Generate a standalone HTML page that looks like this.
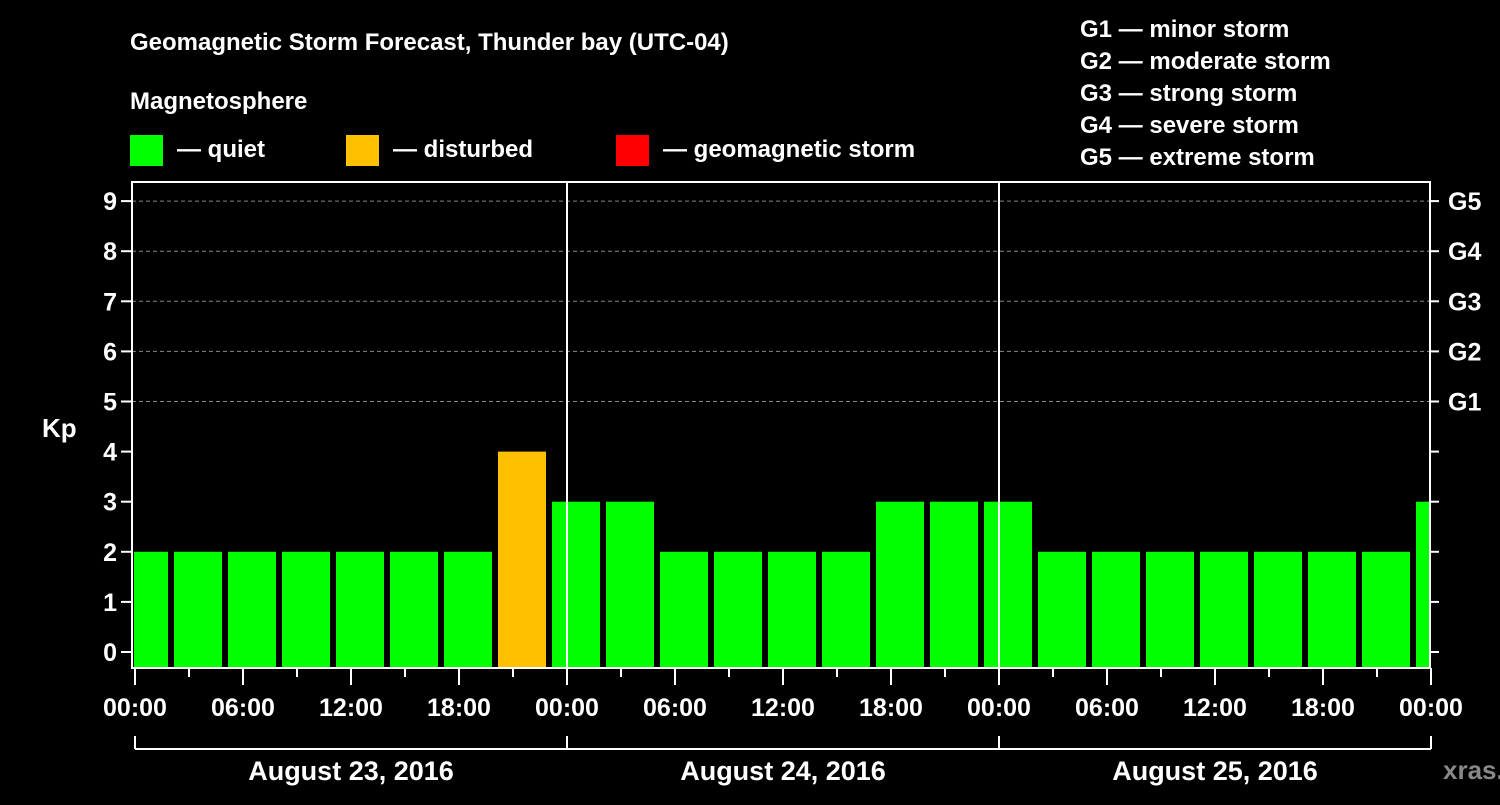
<!DOCTYPE html>
<html><head><meta charset="utf-8"><style>
body{margin:0;background:#000;width:1500px;height:800px;overflow:hidden}
svg text{font-family:"Liberation Sans",Arial,sans-serif;font-weight:bold;fill:#fff}
</style></head><body>
<svg id="c" width="1500" height="800">
<text x="130" y="50" font-size="24">Geomagnetic Storm Forecast, Thunder bay (UTC-04)</text>
<text x="130" y="109" font-size="24">Magnetosphere</text>
<g><rect x="130" y="135" width="33" height="31" fill="#00ff00"/><text x="177" y="157" font-size="24">— quiet</text></g>
<g><rect x="346" y="135" width="33" height="31" fill="#ffc000"/><text x="393" y="157" font-size="24">— disturbed</text></g>
<g><rect x="616" y="135" width="33" height="31" fill="#ff0000"/><text x="663" y="157" font-size="24">— geomagnetic storm</text></g>
<g font-size="24">
<text x="1080" y="37">G1 — minor storm</text><text x="1080" y="69">G2 — moderate storm</text><text x="1080" y="101">G3 — strong storm</text><text x="1080" y="133">G4 — severe storm</text><text x="1080" y="165">G5 — extreme storm</text></g>
<text x="42" y="437" font-size="26">Kp</text>
<text x="1443" y="779" font-size="26" style="fill:#888">xras.ru</text>
<g id="plot"></g>
</svg>
<script>
const kpValues=[2,2,2,2,2,2,2,4,3,3,2,2,2,2,3,3,3,2,2,2,2,2,2,2,3];
const yTicks=[0,1,2,3,4,5,6,7,8,9];
const gLabels=["G1","G2","G3","G4","G5"];
const xTickLabels=["00:00","06:00","12:00","18:00","00:00","06:00","12:00","18:00","00:00","06:00","12:00","18:00","00:00"];
const dayLabels=["August 23, 2016","August 24, 2016","August 25, 2016"];
const NS="http://www.w3.org/2000/svg",g=document.getElementById('plot');
const L=132,R=1430,T=182,B=668,X0=135,hourW=18;
const y=v=>652-v*50.1, x=h=>X0+h*hourW;
function el(t,a,p){const e=document.createElementNS(NS,t);for(const k in a)e.setAttribute(k,a[k]);(p||g).appendChild(e);return e;}
const cp=el('clipPath',{id:'cl'});el('rect',{x:L+2,y:T,width:R-L-2,height:B-T},cp);
yTicks.forEach(v=>{if(v>=5){const d=el('line',{x1:L,x2:R,y1:y(v),y2:y(v),stroke:'#888','stroke-dasharray':'4,3'});}});
const bars=el('g',{'clip-path':'url(#cl)'});
kpValues.forEach((v,i)=>{const s=x(-1+3*i);const r=el('rect',{x:s+3,y:y(v),width:48,height:B-y(v),fill:v>=5?'#ff0000':v>=4?'#ffc000':'#00ff00'},bars);});
[24,48].forEach(h=>{const d=el('line',{x1:x(h),x2:x(h),y1:T,y2:B,stroke:'#fff','stroke-width':2});});
el('rect',{x:L,y:T,width:R-L,height:B-T,fill:'none',stroke:'#fff','stroke-width':2});
yTicks.forEach(v=>{el('line',{x1:121,x2:L,y1:y(v),y2:y(v),stroke:'#fff','stroke-width':2});el('line',{x1:R,x2:R+9,y1:y(v),y2:y(v),stroke:'#fff','stroke-width':2});
const t=el('text',{x:117,y:y(v)+9,'font-size':25,'text-anchor':'end'});t.textContent=v;
if(v>=5){const t2=el('text',{x:1448,y:y(v)+9,'font-size':25});t2.textContent=gLabels[v-5];}});
for(let h=0;h<=72;h+=3){el('line',{x1:x(h),x2:x(h),y1:B,y2:B+(h%6?9:17),stroke:'#fff','stroke-width':2});}
xTickLabels.forEach((s,i)=>{const t=el('text',{x:x(6*i),y:716,'font-size':25,'text-anchor':'middle'});t.textContent=s;});
el('line',{x1:x(0),x2:x(72),y1:749,y2:749,stroke:'#fff','stroke-width':2});
[0,24,48,72].forEach(h=>el('line',{x1:x(h),x2:x(h),y1:736,y2:749,stroke:'#fff','stroke-width':2}));
dayLabels.forEach((s,i)=>{const t=el('text',{x:x(24*i+12),y:780,'font-size':27,'text-anchor':'middle'});t.textContent=s;});
</script>
</body></html>
